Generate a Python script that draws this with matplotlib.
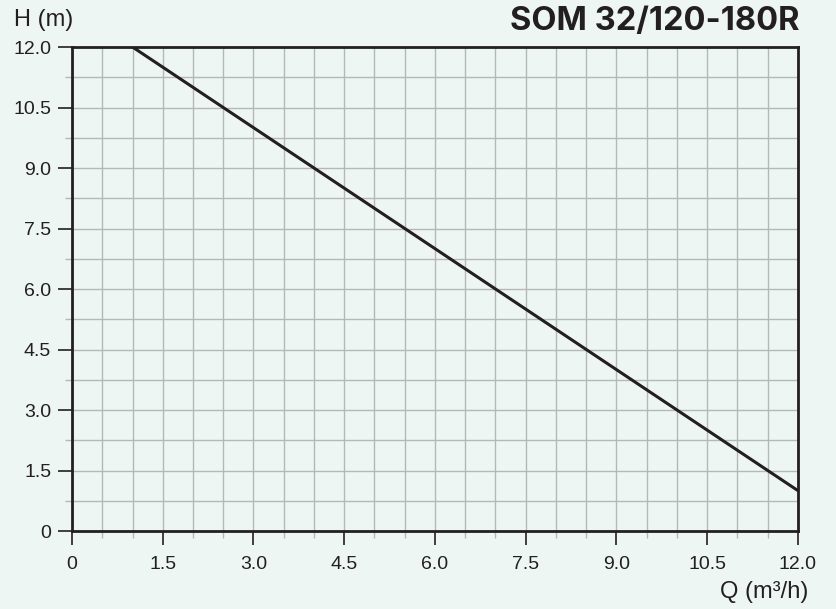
import matplotlib
matplotlib.use("Agg")
import matplotlib.pyplot as plt
from matplotlib.ticker import MultipleLocator

# pump curve end points
q = [1.0, 12.0]
h = [12.0, 1.0]
ticks = [0, 1.5, 3.0, 4.5, 6.0, 7.5, 9.0, 10.5, 12.0]
tick_labels = ["0", "1.5", "3.0", "4.5", "6.0", "7.5", "9.0", "10.5", "12.0"]
title = "SOM 32/120-180R"

BG = "#eef6f3"
INK = "#231f20"
GRID = "#b4b8b7"
SANS = ["Liberation Sans", "DejaVu Sans"]

fig = plt.figure(figsize=(8.37, 6.09), dpi=100, facecolor=BG)
ax = fig.add_axes([72 / 837, 1 - 531 / 609, 726 / 837, 484 / 609])
ax.set_facecolor("none")

ax.plot(q, h, color=INK, lw=2.2, solid_capstyle="butt", zorder=3)

ax.set_xlim(0, 12)
ax.set_ylim(0, 12)
ax.set_xticks(ticks)
ax.set_xticklabels(tick_labels, family=SANS, fontsize=14, color=INK)
ax.set_yticks(ticks)
ax.set_yticklabels(tick_labels, family=SANS, fontsize=14, color=INK)
ax.xaxis.set_minor_locator(MultipleLocator(0.5))
ax.yaxis.set_minor_locator(MultipleLocator(0.75))
ax.tick_params(which="major", length=10, width=1.2, color=INK, pad=5)
ax.tick_params(axis="x", which="major", pad=8)
ax.tick_params(which="minor", length=5, width=1.0, color=GRID)
ax.grid(which="both", color=GRID, lw=1.0, zorder=1)
ax.set_axisbelow(True)
for s in ax.spines.values():
    s.set_color(INK)
    s.set_linewidth(2)

fig.text(14 / 837, 1 - 20 / 609, "H (m)", family=SANS, fontsize=17, color=INK,
         ha="left", va="center")
fig.text(808 / 837, 1 - 592 / 609, "Q (m³/h)", family=SANS, fontsize=17, color=INK,
         ha="right", va="center")
fig.text(800 / 837, 1 - 21 / 609, title, family=["Inter", "DejaVu Sans"], fontsize=23.5,
         fontweight="bold", color=INK, ha="right", va="center")

fig.savefig("out.png", dpi=100, facecolor=BG)
